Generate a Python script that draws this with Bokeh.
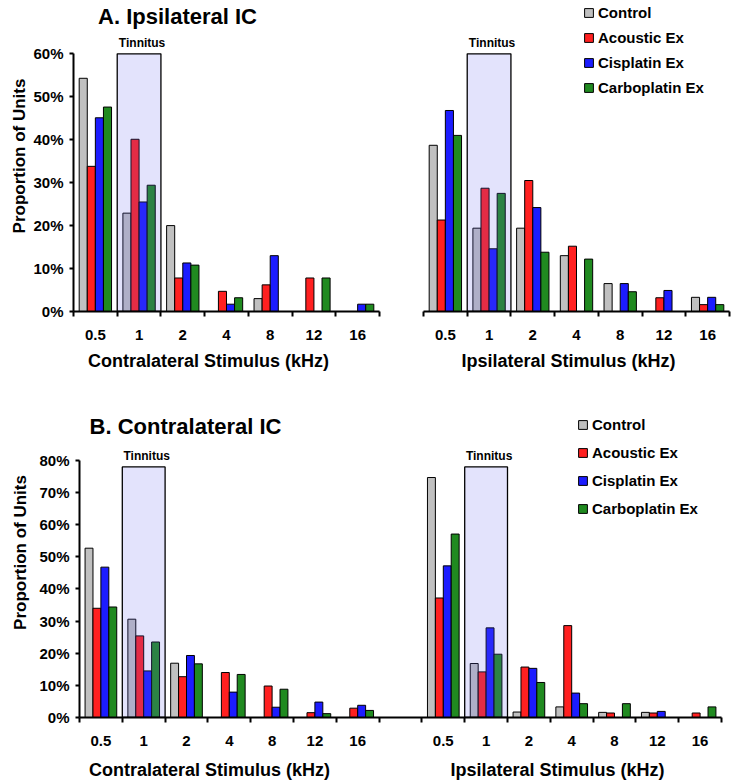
from bokeh.plotting import figure
from bokeh.models import FixedTicker, Label, Legend, LegendItem
from bokeh.layouts import column, row
from bokeh.embed import file_html
from bokeh.resources import INLINE

# ---------------- data ----------------
freqs = ["0.5", "1", "2", "4", "8", "12", "16"]
groups = ["Control", "Acoustic Ex", "Cisplatin Ex", "Carboplatin Ex"]
tinnitus_freq = "1"

# Panel A. Ipsilateral IC (% of units)
a_contra_control = [54.3, 22.9, 20.0, 0, 3.0, 0, 0]
a_contra_acoustic = [33.8, 40.1, 7.8, 4.7, 6.2, 7.8, 0]
a_contra_cisplatin = [45.1, 25.5, 11.3, 1.7, 13.0, 0, 1.7]
a_contra_carboplatin = [47.6, 29.4, 10.8, 3.2, 0, 7.8, 1.7]

a_ipsi_control = [38.7, 19.4, 19.4, 13.0, 6.5, 0, 3.3]
a_ipsi_acoustic = [21.3, 28.7, 30.5, 15.2, 0, 3.2, 1.6]
a_ipsi_cisplatin = [46.8, 14.6, 24.2, 0, 6.5, 4.9, 3.3]
a_ipsi_carboplatin = [41.0, 27.5, 13.8, 12.2, 4.6, 0, 1.6]

# Panel B. Contralateral IC (% of units)
b_contra_control = [52.7, 30.6, 16.9, 0, 0, 0, 0]
b_contra_acoustic = [34.0, 25.4, 12.7, 14.0, 9.8, 1.5, 2.9]
b_contra_cisplatin = [46.8, 14.5, 19.3, 7.9, 3.2, 4.8, 3.8]
b_contra_carboplatin = [34.4, 23.5, 16.7, 13.4, 8.8, 1.2, 2.2]

b_ipsi_control = [74.7, 16.8, 1.7, 3.3, 1.6, 1.6, 0]
b_ipsi_acoustic = [37.2, 14.2, 15.7, 28.6, 1.4, 1.4, 1.4]
b_ipsi_cisplatin = [47.2, 27.9, 15.3, 7.6, 0, 1.9, 0]
b_ipsi_carboplatin = [57.1, 19.7, 10.9, 4.3, 4.3, 0, 3.3]

a_yticks = [0, 10, 20, 30, 40, 50, 60]
b_yticks = [0, 10, 20, 30, 40, 50, 60, 70, 80]
a_tinnitus_top = 60
b_tinnitus_top = 78

# ---------------- style ----------------
FONT = "Liberation Sans"
colors = ["#c0c0c0", "#ff2020", "#1c1cff", "#208a20"]
BAR_W = 0.185
STRIP_MBL = 79
STRIP_MBR = 15


def base_fig(width, height, mbl, mbr, mbb, n_cats, y_end):
    p = figure(width=width, height=height, x_range=(-0.5, n_cats - 0.5),
               y_range=(0, y_end), output_backend="svg", toolbar_location=None,
               min_border_left=mbl, min_border_right=mbr, min_border_top=0,
               min_border_bottom=mbb)
    p.outline_line_color = None
    p.xgrid.visible = False
    p.ygrid.visible = False
    p.background_fill_color = "white"
    p.border_fill_color = "white"
    return p


def strip_fig(width, height):
    p = figure(width=width, height=height, x_range=(0, 1), y_range=(0, 1),
               output_backend="svg", toolbar_location=None,
               x_axis_location=None, y_axis_location=None,
               min_border_left=STRIP_MBL, min_border_right=STRIP_MBR,
               min_border_top=0, min_border_bottom=0)
    p.outline_line_color = None
    p.grid.visible = False
    p.background_fill_color = "white"
    p.border_fill_color = "white"
    return p


def style_xaxis(p, centers, labels, n_cats):
    ax = p.xaxis[0]
    bounds = [i - 0.5 for i in range(n_cats + 1)]
    ax.ticker = FixedTicker(ticks=centers, minor_ticks=bounds)
    ax.major_label_overrides = {c: l for c, l in zip(centers, labels)}
    ax.major_tick_out = 0
    ax.major_tick_in = 0
    ax.minor_tick_out = 5
    ax.minor_tick_in = 0
    ax.minor_tick_line_color = "black"
    ax.minor_tick_line_width = 2
    ax.axis_line_width = 2
    ax.axis_line_color = "black"
    ax.major_label_standoff = 13
    ax.major_label_text_font = FONT
    ax.major_label_text_font_style = "bold"
    ax.major_label_text_font_size = "15px"
    ax.major_label_text_color = "black"


def style_yaxis(p, ticks, label_standoff=6, visible=True):
    ax = p.yaxis[0]
    if not visible:
        ax.visible = False
        return
    ax.ticker = FixedTicker(ticks=ticks)
    ax.bounds = (ticks[0], ticks[-1])
    ax.major_label_overrides = {t: f"{t}%" for t in ticks}
    ax.major_tick_out = 4
    ax.major_tick_in = 0
    ax.major_tick_line_width = 2
    ax.minor_tick_line_color = None
    ax.axis_line_width = 2
    ax.major_label_standoff = 6
    ax.major_label_text_font = FONT
    ax.major_label_text_font_style = "bold"
    ax.major_label_text_font_size = "15px"
    ax.major_label_text_color = "black"
    ax.axis_label = "Proportion of Units"
    ax.axis_label_text_font = FONT
    ax.axis_label_text_font_style = "bold"
    ax.axis_label_text_font_size = "17px"
    ax.axis_label_text_color = "black"
    ax.axis_label_standoff = label_standoff


def draw_bars(p, cat_pos, series_list):
    rs = []
    for g, vals in enumerate(series_list):
        xs = [c + (g - 1.5) * BAR_W for c in cat_pos]
        r = p.vbar(x=xs, top=vals, width=BAR_W, fill_color=colors[g],
                   line_color="black", line_width=1)
        rs.append(r)
    return rs


def draw_tinnitus(p, pos, top):
    p.quad(left=[pos - 0.5], right=[pos + 0.5], bottom=[0], top=[top],
           fill_color="#6464f0", fill_alpha=0.18, line_color="black", line_width=1.3)
    p.add_layout(Label(x=pos, y=top, x_offset=3, y_offset=11, text="Tinnitus",
                       text_font=FONT, text_font_style="bold", text_font_size="12px",
                       text_align="center", text_baseline="middle", text_color="black"))


def screen_label(p, x, y, text, size):
    p.add_layout(Label(x=x, y=y, x_units="screen", y_units="screen", text=text,
                       text_font=FONT, text_font_style="bold", text_font_size=size,
                       text_align="center", text_baseline="middle", text_color="black"))


def add_legend(p, renderers, loc, spacing):
    items = [LegendItem(label=g, renderers=[r]) for g, r in zip(groups, renderers)]
    lg = Legend(items=items, location=loc, orientation="vertical",
                glyph_width=11, glyph_height=11, label_height=17, spacing=spacing,
                label_standoff=4, padding=0, margin=0, border_line_color=None,
                background_fill_alpha=0, label_text_font=FONT,
                label_text_font_style="bold", label_text_font_size="15px",
                label_text_color="black")
    p.add_layout(lg)


n7 = len(freqs)
pos7 = list(range(n7))
tin_idx = freqs.index(tinnitus_freq)

# ---------------- Panel A ----------------
A_H = 347
A_MBB = 36
A_YEND = 72.41

pa1 = base_fig(401, A_H, 73, 22, A_MBB, n7, A_YEND)
draw_bars(pa1, pos7, [a_contra_control, a_contra_acoustic, a_contra_cisplatin, a_contra_carboplatin])
draw_tinnitus(pa1, tin_idx, a_tinnitus_top)
style_xaxis(pa1, pos7, freqs, n7)
style_yaxis(pa1, a_yticks, label_standoff=1)
screen_label(pa1, 104, 295, "A. Ipsilateral IC", "22px")

pa2 = base_fig(335, A_H, 22, 7, A_MBB, n7, A_YEND)
ra = draw_bars(pa2, pos7, [a_ipsi_control, a_ipsi_acoustic, a_ipsi_cisplatin, a_ipsi_carboplatin])
draw_tinnitus(pa2, tin_idx, a_tinnitus_top)
style_xaxis(pa2, pos7, freqs, n7)
style_yaxis(pa2, a_yticks, visible=False)
add_legend(pa2, ra, (160, 215), 8)

sa = strip_fig(736, 40)
screen_label(sa, 208 - STRIP_MBL, 27, "Contralateral Stimulus (kHz)", "18px")
screen_label(sa, 568 - STRIP_MBL, 27, "Ipsilateral Stimulus (kHz)", "18px")

# ---------------- Panel B ----------------
n15 = 2 * n7 + 1
pos_left = list(range(n7))
pos_right = [n7 + 1 + i for i in range(n7)]

pb = base_fig(736, 364, 79, 15, 34, n15, 102.72)
rb = draw_bars(pb, pos_left + pos_right,
               [b_contra_control + b_ipsi_control,
                b_contra_acoustic + b_ipsi_acoustic,
                b_contra_cisplatin + b_ipsi_cisplatin,
                b_contra_carboplatin + b_ipsi_carboplatin])
draw_tinnitus(pb, pos_left[tin_idx], b_tinnitus_top)
draw_tinnitus(pb, pos_right[tin_idx], b_tinnitus_top)
style_xaxis(pb, pos_left + pos_right, freqs + freqs, n15)
style_yaxis(pb, b_yticks, label_standoff=6)
screen_label(pb, 106, 291, "B. Contralateral IC", "22px")
add_legend(pb, rb, (498, 200), 11)

sb = strip_fig(736, 32)
screen_label(sb, 209 - STRIP_MBL, 14, "Contralateral Stimulus (kHz)", "18px")
screen_label(sb, 557 - STRIP_MBL, 14, "Ipsilateral Stimulus (kHz)", "18px")

layout = column(row(pa1, pa2), sa, pb, sb)

open("out.html", "w").write(file_html(layout, INLINE))
